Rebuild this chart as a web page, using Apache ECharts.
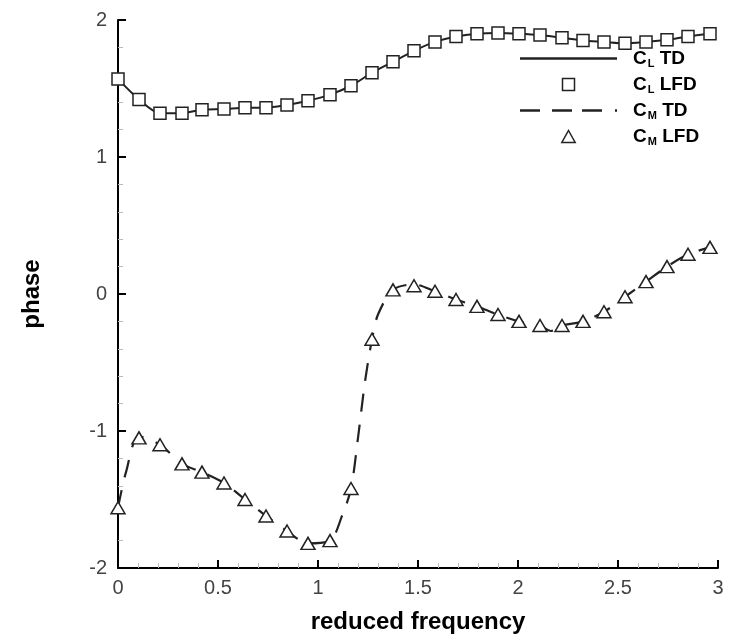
<!DOCTYPE html>
<html>
<head>
<meta charset="utf-8">
<script src="https://cdn.jsdelivr.net/npm/echarts@6/dist/echarts.min.js"></script>
<style>
  html, body { margin: 0; padding: 0; background: #fff; }
  #chart { width: 729px; height: 639px; }
</style>
</head>
<body>
<div id="chart"></div>
<script>
// reduced frequency of the LFD samples
const kLfd = [0, 0.105, 0.21, 0.32, 0.42, 0.53, 0.635, 0.74, 0.845, 0.95, 1.06, 1.165, 1.27, 1.375, 1.48,
  1.585, 1.69, 1.795, 1.9, 2.005, 2.11, 2.22, 2.325, 2.43, 2.535, 2.64, 2.745, 2.85, 2.96];
const clLfd = [1.57, 1.42, 1.32, 1.32, 1.345, 1.35, 1.36, 1.36, 1.38, 1.41, 1.455, 1.52, 1.615, 1.695, 1.775,
  1.84, 1.88, 1.90, 1.905, 1.90, 1.89, 1.87, 1.85, 1.84, 1.83, 1.84, 1.855, 1.88, 1.90];
const cmLfd = [-1.56, -1.05, -1.10, -1.24, -1.30, -1.38, -1.50, -1.62, -1.73, -1.82, -1.80, -1.42, -0.33, 0.03, 0.06,
  0.02, -0.04, -0.09, -0.15, -0.20, -0.23, -0.23, -0.20, -0.13, -0.02, 0.09, 0.20, 0.29, 0.34];

// time domain curves
const clTdK = kLfd;
const clTd = clLfd;
const cmTdK = [0, 0.04, 0.105, 0.21, 0.32, 0.42, 0.53, 0.635, 0.74, 0.845, 0.95, 1.06, 1.12, 1.165, 1.2, 1.235,
  1.27, 1.30, 1.375, 1.48, 1.585, 1.69, 1.795, 1.9, 2.005, 2.11, 2.165, 2.22, 2.325, 2.43, 2.535, 2.64, 2.745, 2.85, 2.96];
const cmTd = [-1.56, -1.30, -1.04, -1.10, -1.24, -1.30, -1.38, -1.50, -1.62, -1.73, -1.82, -1.80, -1.62, -1.42, -1.05,
  -0.64, -0.33, -0.15, 0.03, 0.07, 0.02, -0.04, -0.09, -0.15, -0.20, -0.23, -0.27, -0.23, -0.20, -0.13, -0.02,
  0.09, 0.20, 0.29, 0.34];

const xTicks = [0, 0.5, 1, 1.5, 2, 2.5, 3];
const yTicks = [-2, -1, 0, 1, 2];

const zip = (xs, ys) => xs.map((x, i) => [x, ys[i]]);

const legendText = {
  'CL TD': '{c|C}{s|L}{c| TD}',
  'CL LFD': '{c|C}{s|L}{c| LFD}',
  'CM TD': '{c|C}{s|M}{c| TD}',
  'CM LFD': '{c|C}{s|M}{c| LFD}',
};

const chart = echarts.init(document.getElementById('chart'));

const axisCommon = {
  axisLine: { onZero: false, lineStyle: { color: '#000', width: 2 } },
  axisTick: { inside: true, length: 8, lineStyle: { color: '#000', width: 2 } },
  minorTick: { show: true, splitNumber: 5, length: 5, lineStyle: { color: '#bbb', width: 1 } },
  splitLine: { show: false },
  nameTextStyle: { fontFamily: 'Liberation Sans', fontWeight: 'bold', fontSize: 24, color: '#000' },
};

chart.setOption({
  animation: false,
  backgroundColor: '#fff',
  grid: { left: 118, right: 11, top: 20, bottom: 69 },
  xAxis: {
    ...axisCommon,
    type: 'value',
    min: xTicks[0],
    max: xTicks[xTicks.length - 1],
    interval: 0.5,
    name: 'reduced frequency',
    nameLocation: 'middle',
    nameGap: 42,
    axisLabel: { margin: 10, fontSize: 20, color: '#444', fontFamily: 'Liberation Sans' },
  },
  yAxis: {
    ...axisCommon,
    type: 'value',
    min: yTicks[0],
    max: yTicks[yTicks.length - 1],
    interval: 1,
    name: 'phase',
    nameLocation: 'middle',
    nameGap: 74,
    axisLabel: { margin: 11, fontSize: 20, color: '#444', fontFamily: 'Liberation Sans' },
  },
  legend: {
    orient: 'vertical',
    left: 515,
    top: 44,
    itemWidth: 97,
    itemHeight: 12,
    itemGap: 6,
    selectedMode: false,
    formatter: (name) => legendText[name],
    textStyle: {
      fontFamily: 'Liberation Sans',
      rich: {
        c: { fontSize: 19, fontWeight: 'bold', color: '#000', lineHeight: 19 },
        s: { fontSize: 11, fontWeight: 'bold', color: '#000', lineHeight: 10, verticalAlign: 'top', padding: [9, 0, 0, 1] },
      },
      padding: [0, 0, 0, 11],
    },
    data: [
      { name: 'CL TD', icon: 'path://M0,0H97V2.4H0Z', itemStyle: { color: '#222', borderWidth: 0 } },
      { name: 'CL LFD', icon: 'path://M0,0H10V10H0Z', itemStyle: { color: '#fff', borderColor: '#222', borderWidth: 1.5 } },
      { name: 'CM TD', icon: 'path://M0,0H20V2.4H0Z M32,0H52V2.4H32Z M62,0H82V2.4H62Z M95,0H97V2.4H95Z', itemStyle: { color: '#222', borderWidth: 0 } },
      { name: 'CM LFD', icon: 'path://M5,0L10,9L0,9Z', itemStyle: { color: '#fff', borderColor: '#222', borderWidth: 1.5 } },
    ],
  },
  series: [
    {
      name: 'CL TD',
      type: 'line',
      data: zip(clTdK, clTd),
      smooth: 0.3,
      symbol: 'none',
      lineStyle: { color: '#222', width: 2 },
      itemStyle: { color: '#222' },
      z: 2,
    },
    {
      name: 'CL LFD',
      type: 'scatter',
      data: zip(kLfd, clLfd),
      symbol: 'rect',
      symbolSize: 12,
      itemStyle: { color: '#fff', borderColor: '#222', borderWidth: 1.5, opacity: 1 },
      z: 3,
    },
    {
      name: 'CM TD',
      type: 'line',
      data: zip(cmTdK, cmTd),
      smooth: 0.3,
      symbol: 'none',
      lineStyle: { color: '#222', width: 2.2, type: [18, 13] },
      itemStyle: { color: '#222' },
      z: 2,
    },
    {
      name: 'CM LFD',
      type: 'scatter',
      data: zip(kLfd, cmLfd),
      symbol: 'triangle',
      symbolSize: [14, 12],
      itemStyle: { color: '#fff', borderColor: '#222', borderWidth: 1.5, opacity: 1 },
      z: 3,
    },
  ],
});
</script>
</body>
</html>
